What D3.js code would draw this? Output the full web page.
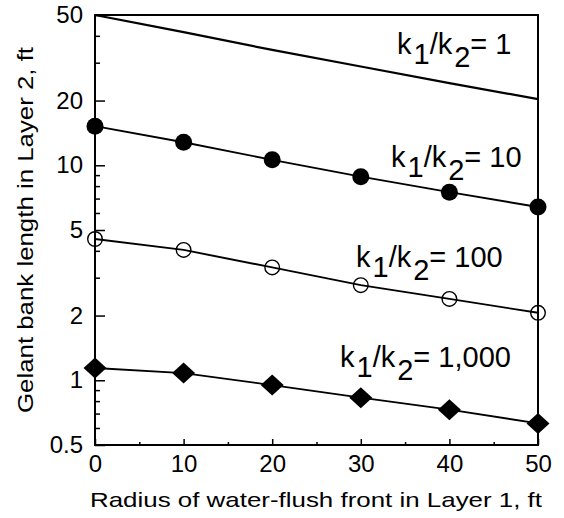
<!DOCTYPE html>
<html>
<head>
<meta charset="utf-8">
<script src="https://cdn.jsdelivr.net/npm/d3@7"></script>
<style>
  html, body { margin: 0; padding: 0; background: #fff; }
  svg { display: block; }
  text { font-family: "Liberation Sans", Arial, Helvetica, sans-serif; fill: #000; }
</style>
</head>
<body>
<svg id="chart" width="564" height="518"></svg>
<script>
// ---- data ----
const radius = [0, 10, 20, 30, 40, 50];
const ratio1 = [50, 41.6, 34.4, 28.8, 24.1, 20.3];
const ratio10 = [15.2, 12.8, 10.6, 8.85, 7.5, 6.4];
const ratio100 = [4.54, 4.04, 3.35, 2.77, 2.39, 2.06];
const ratio1000 = [1.14, 1.08, 0.95, 0.83, 0.73, 0.63];
const xTicks = [0, 10, 20, 30, 40, 50];
const xMinorTicks = [5, 15, 25, 35, 45];
const yTicks = [0.5, 1, 2, 5, 10, 20, 50];
const yTickLabels = ["0.5", "1", "2", "5", "10", "20", "50"];
const yMinorTicks = [0.6, 0.7, 0.8, 0.9, 3, 4, 6, 7, 8, 9, 30, 40];
const xTitle = "Radius of water-flush front in Layer 1, ft";
const yTitle = "Gelant bank length in Layer 2, ft";
const seriesLabels = [
  { sub1: "1", sub2: "2", val: "1" },
  { sub1: "1", sub2: "2", val: "10" },
  { sub1: "1", sub2: "2", val: "100" },
  { sub1: "1", sub2: "2", val: "1,000" }
];

// ---- layout ----
const svg = d3.select("#chart");
const L = 95, R = 538, T = 15, B = 445;
const x = d3.scaleLinear().domain([0, 50]).range([L, R]);
const y = d3.scaleLog().domain([0.5, 50]).range([B, T]);

// axes
const gx = svg.append("g").attr("transform", `translate(0,${B})`)
  .call(d3.axisBottom(x).tickValues(xTicks).tickSize(-6).tickPadding(10).tickFormat(d3.format("d")));
const gxm = svg.append("g").attr("transform", `translate(0,${B})`)
  .call(d3.axisBottom(x).tickValues(xMinorTicks).tickSize(-3).tickFormat(""));
const gy = svg.append("g").attr("transform", `translate(${L},0)`)
  .call(d3.axisLeft(y).tickValues(yTicks).tickSize(-10).tickPadding(12)
    .tickFormat((d, i) => yTickLabels[i]));
const gym = svg.append("g").attr("transform", `translate(${L},0)`)
  .call(d3.axisLeft(y).tickValues(yMinorTicks).tickSize(-5).tickFormat(""));

[gx, gxm, gy, gym].forEach(g => {
  g.attr("font-family", null).attr("font-size", 24);
  g.select(".domain").remove();
  g.selectAll(".tick line").attr("stroke", "#000").attr("stroke-width", 1.5);
  g.selectAll("text").attr("fill", "#000");
});

// frame
svg.append("rect").attr("x", L).attr("y", T).attr("width", R - L).attr("height", B - T)
  .attr("fill", "none").attr("stroke", "#000").attr("stroke-width", 2);

// lines
const line = d3.line().x(d => x(d[0])).y(d => y(d[1]));
const allSeries = [ratio1, ratio10, ratio100, ratio1000];
allSeries.forEach((s, i) => {
  svg.append("path")
    .datum(radius.map((r, j) => [r, s[j]]))
    .attr("d", line)
    .attr("fill", "none")
    .attr("stroke", "#000")
    .attr("stroke-width", i === 0 ? 2.2 : 1.9);
});

// markers
svg.append("g").selectAll("circle").data(radius.map((r, j) => [r, ratio10[j]])).join("circle")
  .attr("cx", d => x(d[0])).attr("cy", d => y(d[1])).attr("r", 8.5).attr("fill", "#000");
svg.append("g").selectAll("circle").data(radius.map((r, j) => [r, ratio100[j]])).join("circle")
  .attr("cx", d => x(d[0])).attr("cy", d => y(d[1])).attr("r", 7.3)
  .attr("fill", "none").attr("stroke", "#000").attr("stroke-width", 1.4);
svg.append("g").selectAll("path").data(radius.map((r, j) => [r, ratio1000[j]])).join("path")
  .attr("d", d => {
    const cx = x(d[0]), cy = y(d[1]), w = 11.5, h = 10.5;
    return `M${cx},${cy - h}L${cx + w},${cy}L${cx},${cy + h}L${cx - w},${cy}Z`;
  })
  .attr("fill", "#000");

// series labels
const labelPos = [
  { x: 397, y: 54 },
  { x: 391, y: 167 },
  { x: 356, y: 267 },
  { x: 340, y: 367 }
];
seriesLabels.forEach((lab, i) => {
  const t = svg.append("text").attr("x", labelPos[i].x).attr("y", labelPos[i].y)
    .attr("font-size", 29);
  t.append("tspan").text("k");
  t.append("tspan").attr("dx", 2).attr("dy", 10).text(lab.sub1);
  t.append("tspan").attr("dy", -10).text("/k");
  t.append("tspan").attr("dx", 2).attr("dy", 13).text(lab.sub2);
  t.append("tspan").attr("dy", -13).text("= " + lab.val);
});

// axis titles
svg.append("text").attr("x", 90).attr("y", 507)
  .attr("font-size", 21).attr("textLength", 452).attr("lengthAdjust", "spacingAndGlyphs")
  .text(xTitle);
svg.append("text").attr("transform", `translate(33,413) rotate(-90)`)
  .attr("font-size", 22).attr("textLength", 366).attr("lengthAdjust", "spacingAndGlyphs")
  .text(yTitle);
</script>
</body>
</html>
